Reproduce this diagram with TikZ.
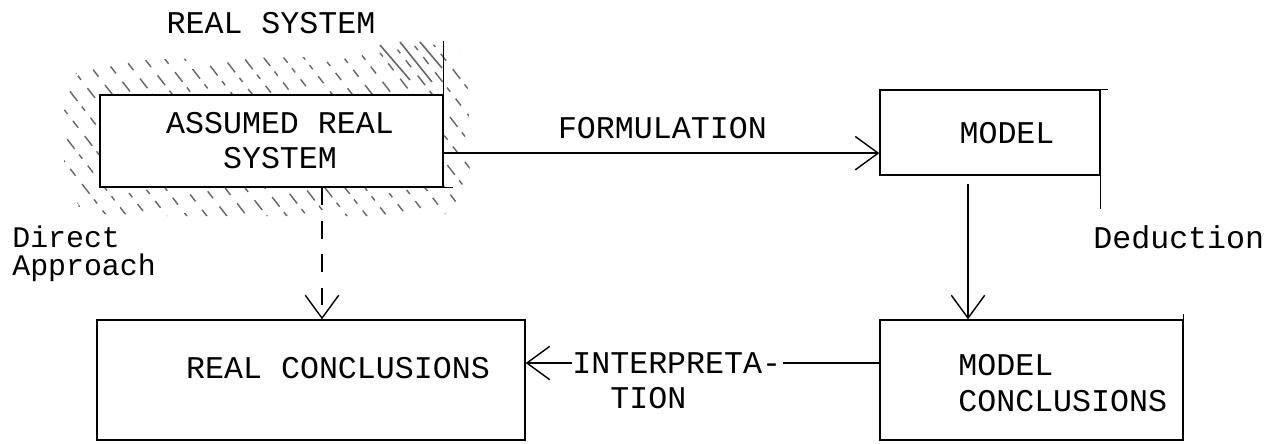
\documentclass[tikz,border=0pt]{standalone}
\usepackage{fontspec}
\setmonofont{Liberation Mono}
\usetikzlibrary{arrows.meta,calc}

\tikzset{
  box/.style={draw, line width=0.8pt, inner sep=0pt},
  tw/.style={font=\ttfamily\fontsize{18pt}{20pt}\selectfont, inner sep=0pt},
  twlow/.style={font=\ttfamily\fontsize{17pt}{16.5pt}\selectfont, inner sep=0pt, align=left},
  conn/.style={line width=0.8pt},
  barb/.style={-{Straight Barb[length=13pt,width=19pt,line width=0.8pt]}},
  hatch/.style={black!60, line width=0.8pt},
}

\begin{document}
\begin{tikzpicture}[x=0.02cm, y=-0.02cm]
\useasboundingbox (0,0) rectangle (1283,443);

% shaded surround of the assumed real system
\begin{scope}
  \clip[rounded corners=18pt] (64,82) -- (95,60) -- (375,56) -- (440,38) -- (468,55)
        -- (470,205) -- (440,216) -- (90,216) -- (64,198) -- cycle;
  \foreach \i [count=\k] in {-150,-130,...,470}
    \draw[hatch, dash pattern=on 7pt off 4pt on 3pt off 5pt on 5pt off 6pt,
          dash phase=\k*2.3pt]
      (\i,40) -- ++(140,180);
\end{scope}
\draw[hatch, line width=0.9pt] (380,45) -- (410,80) (400,42) -- (432,82) (420,42) -- (442,68);

% boxes
\node[box, fill=white, minimum width=343*0.02cm, minimum height=92*0.02cm] (asr) at (271.5,141) {};
\node[box, minimum width=220*0.02cm, minimum height=85*0.02cm] (model) at (990,132.5) {};
\node[box, minimum width=303*0.02cm, minimum height=120*0.02cm] (mc) at (1031.5,380) {};
\node[box, minimum width=428*0.02cm, minimum height=120*0.02cm] (rc) at (311,380) {};

% overshooting box strokes
\draw[conn] (asr.north east) -- ++(0,-53);
\draw[conn] (asr.south east) -- ++(9,0);
\draw[conn] (model.south east) -- ++(0,33);
\draw[conn] (model.north east) -- ++(7,0);
\draw[conn] (mc.north east) -- ++(0,-5);

% texts
\node[tw] (title) at (271,23) {REAL SYSTEM};
\node[tw, align=center] (asrtext) at (280,141) {ASSUMED REAL\\SYSTEM};
\node[tw] (modeltext) at (1007,133) {MODEL};
\node[tw, anchor=west, align=left] (mctext) at (958,383) {MODEL\\CONCLUSIONS};
\node[tw] (rctext) at (338,368) {REAL CONCLUSIONS};
\node[twlow, anchor=north west] (direct) at (12,225) {Direct\\Approach};
\node[tw, anchor=west] (deduction) at (1093,237) {Deduction};

% formulation
\coordinate (fstart) at ($(asr.south east)!0.37!(asr.north east)$);
\draw[conn, barb] (fstart) -- (fstart -| model.west)
  node[tw, pos=0.502, above=8pt] (formulation) {FORMULATION};

% deduction
\coordinate (dstart) at ($(model.south)+(-22,8)$);
\draw[conn, barb] (dstart) -- (dstart |- mc.north);

% direct approach
\coordinate (astart) at ($(asr.south)+(50.5,0)$);
\draw[conn, barb, dash pattern=on 10pt off 9pt] (astart) -- (astart |- rc.north);

% interpretation
\node[tw, anchor=west] (interp) at (572,363) {INTERPRETA-};
\node[tw, anchor=north west] (interp2) at (610,387) {TION};
\draw[conn] ($(interp.east)+(2,0)$) -- (interp.east -| mc.west);
\draw[conn, barb] (interp.west) -- (interp.west -| rc.east);
\end{tikzpicture}
\end{document}
